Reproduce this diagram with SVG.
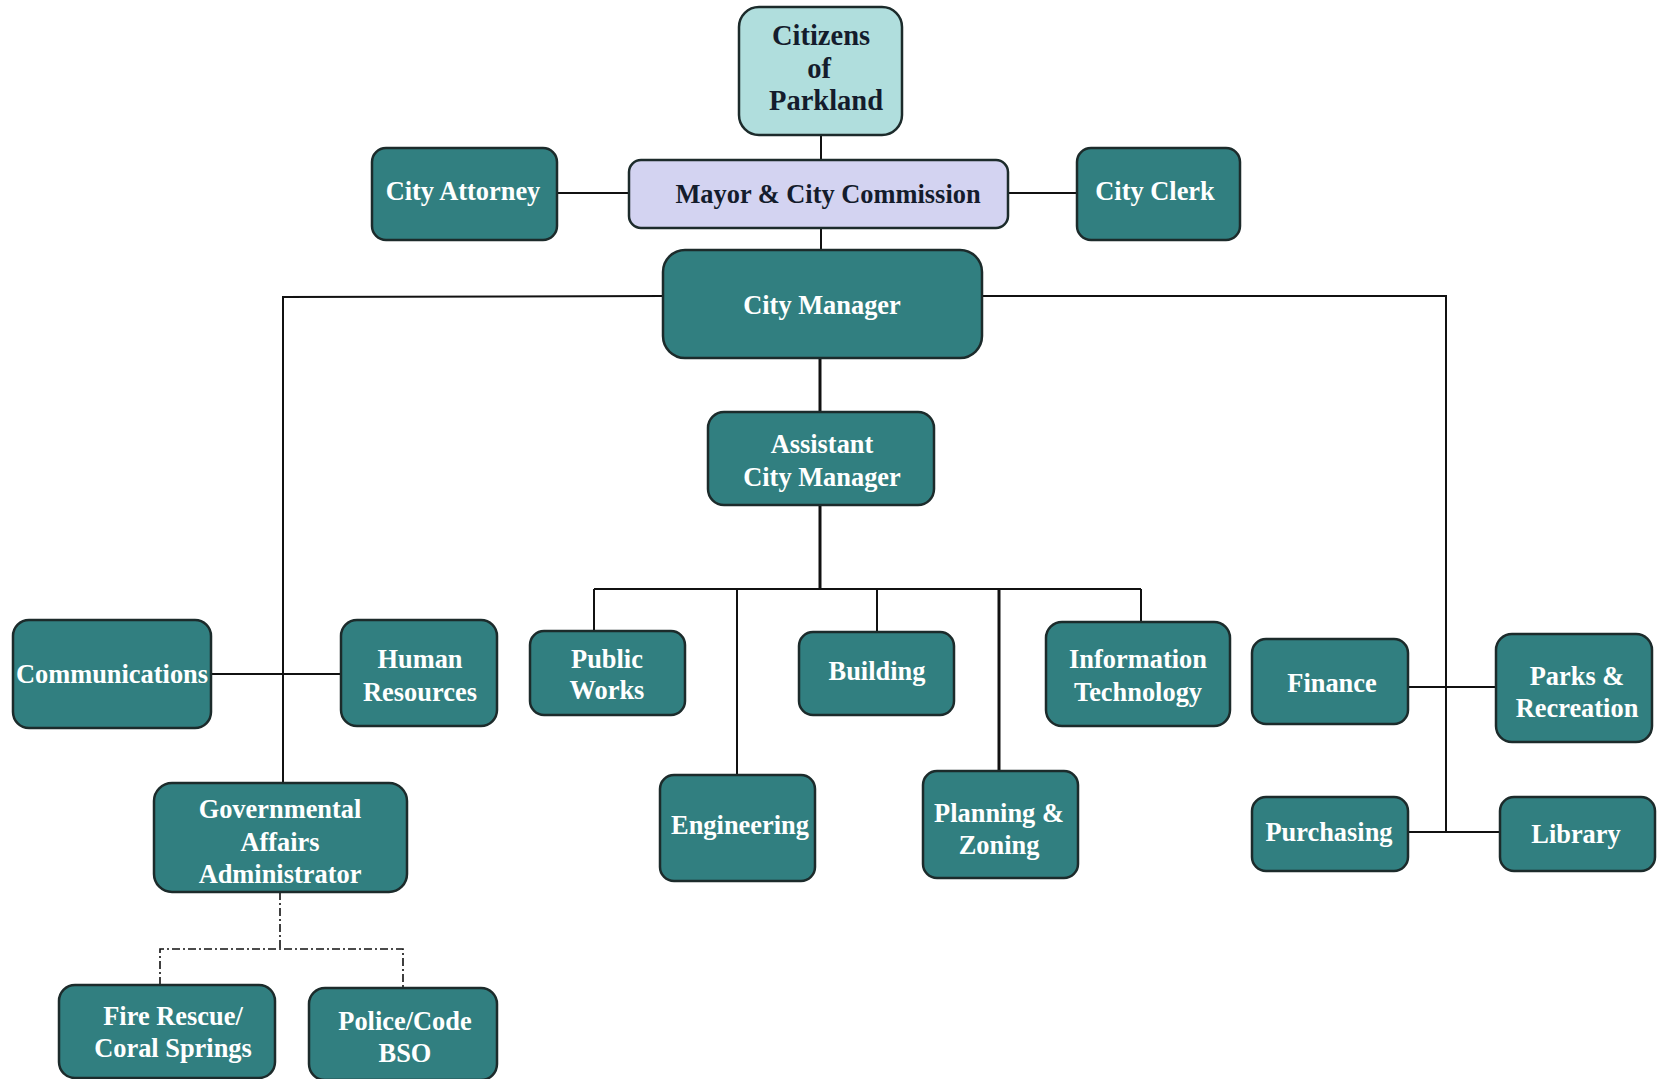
<svg xmlns="http://www.w3.org/2000/svg" width="1657" height="1079" viewBox="0 0 1657 1079">
<style>
.box{fill:#317f80;stroke:#1c2b2b;stroke-width:2.5}
.cit{fill:#b0dedd;stroke:#1c2b2b;stroke-width:2.5}
.may{fill:#d3d3f1;stroke:#1c2b2b;stroke-width:2.5}
text{font-weight:bold;font-size:26.4px;text-anchor:middle;dominant-baseline:central}
.w{fill:#ffffff}
.d{fill:#141c2c}
.big{font-size:28.5px}
.ln{stroke:#111;stroke-width:2;fill:none}
.thick{stroke:#111;stroke-width:3;fill:none}
.dash{stroke:#111;stroke-width:1.6;fill:none;stroke-dasharray:8 3 2 3}
</style>
<rect width="1657" height="1079" fill="#ffffff"/>
<g id="connectors">
<line class="ln" x1="821" y1="135" x2="821" y2="160"/>
<line class="ln" x1="821" y1="228" x2="821" y2="250"/>
<line class="ln" x1="557" y1="193" x2="629" y2="193"/>
<line class="ln" x1="1008" y1="193" x2="1077" y2="193"/>
<polyline class="ln" points="663,296 283,297 283,783"/>
<polyline class="ln" points="982,296 1446,296 1446,832"/>
<line class="ln" x1="211" y1="674" x2="341" y2="674"/>
<line class="ln" x1="1408" y1="687" x2="1496" y2="687"/>
<line class="ln" x1="1408" y1="832" x2="1500" y2="832"/>
<line class="thick" x1="820" y1="358" x2="820" y2="412"/>
<line class="thick" x1="820" y1="505" x2="820" y2="589"/>
<line class="ln" x1="594" y1="589" x2="1141" y2="589"/>
<line class="ln" x1="594" y1="589" x2="594" y2="631"/>
<line class="ln" x1="737" y1="589" x2="737" y2="775"/>
<line class="ln" x1="877" y1="589" x2="877" y2="632"/>
<line class="thick" x1="999" y1="589" x2="999" y2="771"/>
<line class="ln" x1="1141" y1="589" x2="1141" y2="622"/>
<polyline class="dash" points="280,892 280,949"/>
<polyline class="dash" points="160,985 160,949 403,949 403,988"/>
</g>
<g font-family="'Liberation Serif', 'Times New Roman', Times, 'DejaVu Serif', serif">
<g id="citizens"><rect class="cit" x="739" y="7" width="163" height="128" rx="20"/>
<text class="d big" x="821" y="35">Citizens</text><text class="d big" x="819" y="68">of</text><text class="d big" x="826" y="100">Parkland</text></g>
<g id="mayor"><rect class="may" x="629" y="160" width="379" height="68" rx="12"/>
<text class="d" x="828" y="194">Mayor &amp; City Commission</text></g>
<g id="city-attorney"><rect class="box" x="372" y="148" width="185" height="92" rx="14"/>
<text class="w" x="463" y="191">City Attorney</text></g>
<g id="city-clerk"><rect class="box" x="1077" y="148" width="163" height="92" rx="14"/>
<text class="w" x="1155" y="191">City Clerk</text></g>
<g id="city-manager"><rect class="box" x="663" y="250" width="319" height="108" rx="22"/>
<text class="w" x="822" y="305">City Manager</text></g>
<g id="assistant-city-manager"><rect class="box" x="708" y="412" width="226" height="93" rx="16"/>
<text class="w" x="822" y="444">Assistant</text><text class="w" x="822" y="477">City Manager</text></g>
<g id="communications"><rect class="box" x="13" y="620" width="198" height="108" rx="16"/>
<text class="w" x="112" y="674">Communications</text></g>
<g id="human-resources"><rect class="box" x="341" y="620" width="156" height="106" rx="16"/>
<text class="w" x="420" y="659">Human</text><text class="w" x="420" y="692">Resources</text></g>
<g id="governmental-affairs"><rect class="box" x="154" y="783" width="253" height="109" rx="18"/>
<text class="w" x="280" y="809">Governmental</text><text class="w" x="280" y="842">Affairs</text><text class="w" x="280" y="874">Administrator</text></g>
<g id="fire-rescue"><rect class="box" x="59" y="985" width="216" height="93" rx="16"/>
<text class="w" x="173" y="1016">Fire Rescue/</text><text class="w" x="173" y="1048">Coral Springs</text></g>
<g id="police"><rect class="box" x="309" y="988" width="188" height="92" rx="16"/>
<text class="w" x="405" y="1021">Police/Code</text><text class="w" x="405" y="1053">BSO</text></g>
<g id="public-works"><rect class="box" x="530" y="631" width="155" height="84" rx="14"/>
<text class="w" x="607" y="659">Public</text><text class="w" x="607" y="690">Works</text></g>
<g id="building"><rect class="box" x="799" y="632" width="155" height="83" rx="14"/>
<text class="w" x="877" y="671">Building</text></g>
<g id="information-technology"><rect class="box" x="1046" y="622" width="184" height="104" rx="16"/>
<text class="w" x="1138" y="659">Information</text><text class="w" x="1138" y="692">Technology</text></g>
<g id="engineering"><rect class="box" x="660" y="775" width="155" height="106" rx="14"/>
<text class="w" x="740" y="825">Engineering</text></g>
<g id="planning-zoning"><rect class="box" x="923" y="771" width="155" height="107" rx="14"/>
<text class="w" x="999" y="813">Planning &amp;</text><text class="w" x="999" y="845">Zoning</text></g>
<g id="finance"><rect class="box" x="1252" y="639" width="156" height="85" rx="14"/>
<text class="w" x="1332" y="683">Finance</text></g>
<g id="parks-recreation"><rect class="box" x="1496" y="634" width="156" height="108" rx="16"/>
<text class="w" x="1577" y="676">Parks &amp;</text><text class="w" x="1577" y="708">Recreation</text></g>
<g id="purchasing"><rect class="box" x="1252" y="797" width="156" height="74" rx="14"/>
<text class="w" x="1329" y="832">Purchasing</text></g>
<g id="library"><rect class="box" x="1500" y="797" width="155" height="74" rx="14"/>
<text class="w" x="1576" y="834">Library</text></g>
</g>
</svg>
